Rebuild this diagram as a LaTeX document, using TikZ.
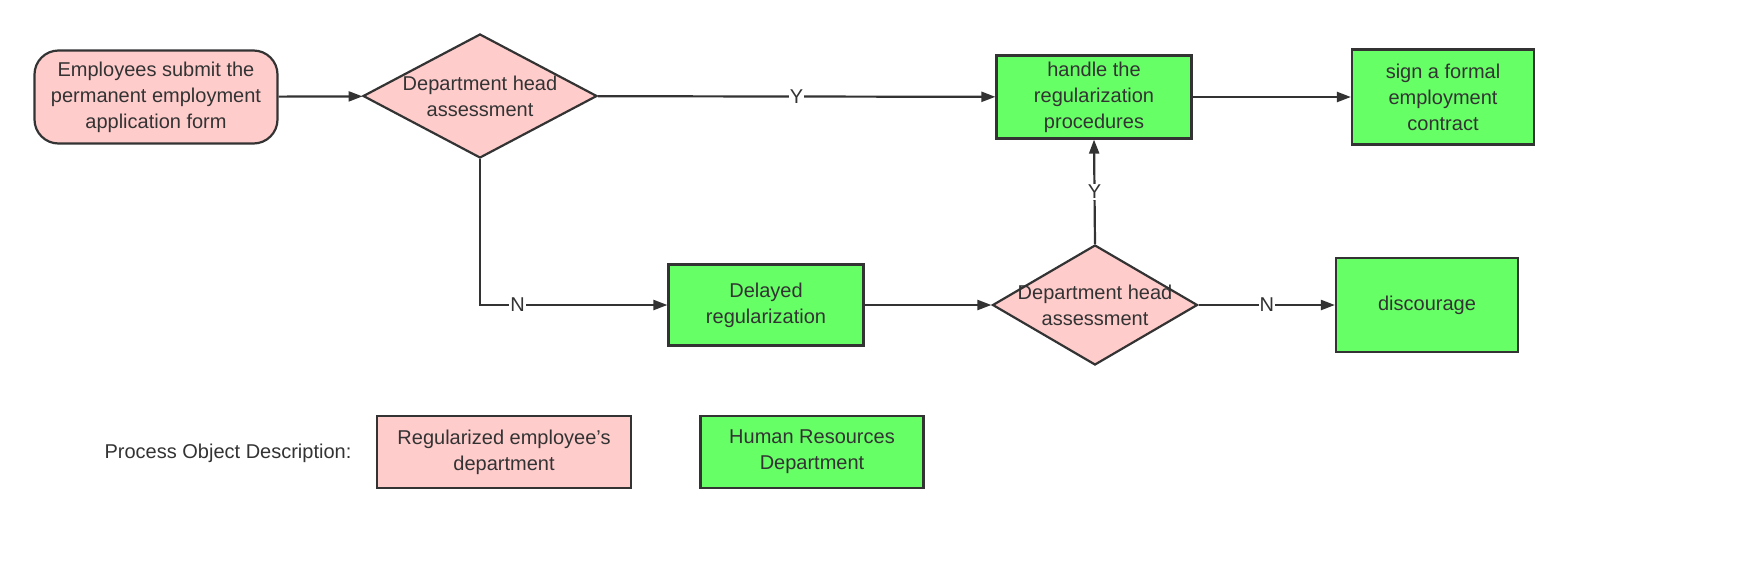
\documentclass[tikz,border=0pt]{standalone}
\usepackage{fontspec}
\setmainfont{Liberation Sans}
\usetikzlibrary{shapes.geometric,arrows.meta}
\definecolor{pk}{HTML}{FFCCCC}
\definecolor{gr}{HTML}{66FF66}
\definecolor{ln}{HTML}{333333}
\begin{document}
\begin{tikzpicture}[x=1pt,y=-1pt,
 every node/.style={font=\fontsize{20}{26}\selectfont,text=ln,align=center},
 box/.style={draw=ln,line width=2.2pt,inner sep=0pt},
 pbox/.style={box,fill=pk},
 gbox/.style={box,fill=gr},
 dia/.style={draw=ln,line width=2.2pt,fill=pk,diamond,aspect=1.9,inner sep=-14pt},
 arr/.style={draw=ln,line width=2.2pt,-{Triangle[length=14pt,width=10pt]}},
 lab/.style={fill=white,inner sep=1pt}]
\useasboundingbox (0,0) rectangle (1738,579);
\node[pbox,rounded corners=24pt,minimum width=243pt,minimum height=93pt] (s) at (156,97) {Employees submit the\\permanent employment\\application form};
\node[dia,minimum width=234pt,minimum height=124pt] (d1) at (480,96) {Department head\\assessment};
\node[gbox,minimum width=195pt,minimum height=83pt] (h) at (1094,97) {handle the\\regularization\\procedures};
\node[gbox,minimum width=182pt,minimum height=95pt] (c) at (1443,97) {sign a formal\\employment\\contract};
\node[gbox,minimum width=195pt,minimum height=81pt] (dl) at (766,305) {Delayed\\regularization};
\node[dia,minimum width=205pt,minimum height=120pt] (d2) at (1095,305) {Department head\\assessment};
\node[gbox,minimum width=182pt,minimum height=94pt] (dc) at (1427,305) {discourage};
\node (lt) at (228,453) {Process Object Description:};
\node[pbox,minimum width=254pt,minimum height=72pt] (l1) at (504,452) {Regularized employee's\\department};
\node[gbox,minimum width=223pt,minimum height=72pt] (l2) at (812,452) {Human Resources\\Department};
\draw[arr] (s) -- (d1);
\draw[arr] (d1) -- node[lab,pos=0.5]{Y} (h);
\draw[arr] (h) -- (c);
\draw[arr] (d1.south) |- node[lab,pos=0.6]{N} (dl);
\draw[arr] (dl) -- (d2);
\draw[arr] (d2.north) -- node[lab]{Y} (h.south);
\draw[arr] (d2) -- node[lab]{N} (dc);
\end{tikzpicture}
\end{document}
